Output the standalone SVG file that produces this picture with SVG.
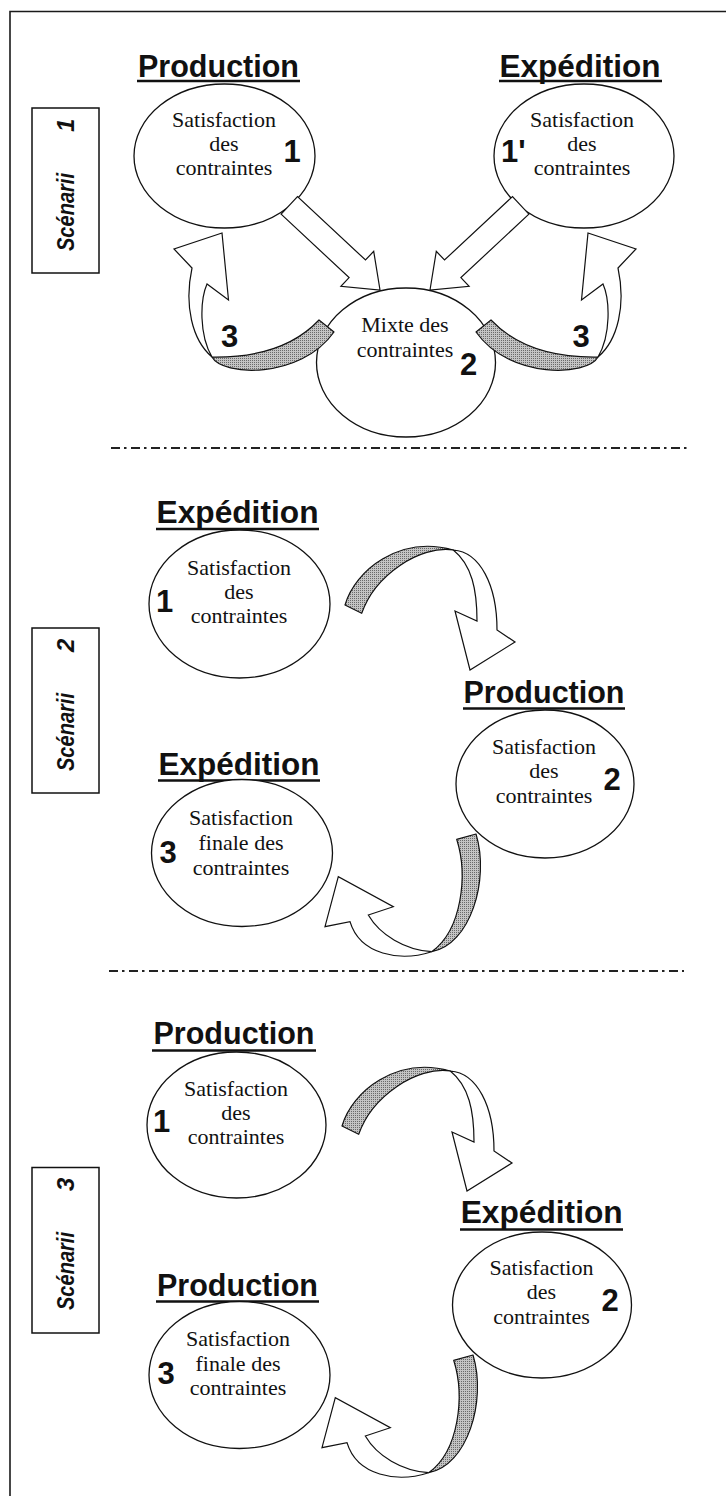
<svg xmlns="http://www.w3.org/2000/svg" width="726" height="1496" viewBox="0 0 726 1496">
  <style>
    .frame { fill: none; stroke: #1a1a1a; stroke-width: 1.6; }
    .node ellipse { fill: #fff; stroke: #111; stroke-width: 1.3; }
    .title { font-family: "Liberation Sans", Arial, sans-serif; font-weight: bold; font-size: 32px; text-anchor: middle; fill: #111; }
    .uline { stroke: #111; stroke-width: 2.6; }
    .body { font-family: "Liberation Serif", "Times New Roman", "DejaVu Serif", serif; font-size: 22px; text-anchor: middle; fill: #111; }
    .num { font-family: "Liberation Sans", Arial, sans-serif; font-weight: bold; font-size: 31px; text-anchor: middle; fill: #111; }
    .sep { stroke: #222; stroke-width: 1.8; stroke-dasharray: 9 4 2.5 4.5; }
    .tag rect { fill: #fff; stroke: #111; stroke-width: 1.5; }
    .tag text { font-family: "Liberation Sans", Arial, sans-serif; font-weight: bold; font-style: italic; font-size: 24px; fill: #111; }
    .ribbon { fill: url(#stipple); stroke: #111; stroke-width: 1.2; stroke-linejoin: round; }
    .arrow { fill: #fff; stroke: #111; stroke-width: 1.2; stroke-linejoin: miter; }
  </style>
  <defs>
    <pattern id="stipple" width="2" height="2" patternUnits="userSpaceOnUse">
      <rect width="2" height="2" fill="#c4c4c4"/>
      <rect width="1" height="1" fill="#6a6a6a"/>
    </pattern>
    <!-- return loop: shaded underside + white curved arrow (left side, scenario 1) -->
    <g id="loopBack">
      <path class="ribbon" d="M334,332 L319,320 C302,338 270,358 212,357 C222,376 300,380 334,332 Z"/>
      <path class="arrow" d="M212,357 C192,340 184,305 192,268 L174,249 L222,233 L228.5,300 L207,284 C200,300 199,335 212,357 Z"/>
    </g>
    <!-- curved arrow from step 1 over to step 2 -->
    <g id="arcOver">
      <path class="ribbon" d="M361.7,613.3 L345,605 C355,570 400,535 453.3,550 C420,545 375,575 361.7,613.3 Z"/>
      <path class="arrow" d="M453.3,550 C480,552 497,585 497,630 L515,642 L470,670 L455,611 L477,621 C477,590 472,565 453.3,550 Z"/>
    </g>
    <!-- curved arrow from step 2 back to step 3 -->
    <g id="arcUnder">
      <path class="ribbon" d="M476,834 L456.7,839.3 C468,875 462,930 431.7,951.7 C470,945 490,880 476,834 Z"/>
      <path class="arrow" d="M431.7,951.7 C400,962 360,955 350,921.7 L325,926.7 L338.3,876.7 L393.3,906.7 L368.3,915 C380,935 405,950 431.7,951.7 Z"/>
    </g>
  </defs>

  <rect width="726" height="1496" fill="#fff"/>

  <!-- page frame (top and left edges) -->
  <path class="frame" d="M10,1496 L10,11.5 L726,11.5"/>

  <!-- section separators -->
  <g id="separators">
    <line class="sep" x1="111" y1="448" x2="687" y2="448"/>
    <line class="sep" x1="109" y1="971" x2="684" y2="971"/>
  </g>

  <!-- ===== Scenario 1 ===== -->
  <g id="tag-s1" class="tag">
    <rect x="32" y="108" width="67" height="165"/>
    <text transform="translate(74,251) rotate(-90)"><tspan x="0" textLength="78" lengthAdjust="spacingAndGlyphs">Scénarii</tspan><tspan x="119">1</tspan></text>
  </g>

  <g id="s1-production" class="node">
    <text class="title" x="218.5" y="77" textLength="161" lengthAdjust="spacingAndGlyphs">Production</text>
    <line class="uline" x1="137" y1="81" x2="300" y2="81"/>
    <ellipse cx="224.5" cy="156" rx="90.5" ry="72"/>
    <text class="body" x="224" y="127">Satisfaction</text>
    <text class="body" x="224" y="151">des</text>
    <text class="body" x="224" y="175">contraintes</text>
    <text class="num" x="292" y="162">1</text>
  </g>

  <g id="s1-expedition" class="node">
    <text class="title" x="580" y="77" textLength="161" lengthAdjust="spacingAndGlyphs">Expédition</text>
    <line class="uline" x1="499" y1="81" x2="662" y2="81"/>
    <ellipse cx="584" cy="156" rx="90" ry="72"/>
    <text class="body" x="582" y="127">Satisfaction</text>
    <text class="body" x="582" y="151">des</text>
    <text class="body" x="582" y="175">contraintes</text>
    <text class="num" x="501" y="162" style="text-anchor:start">1'</text>
  </g>

  <g id="s1-mixte" class="node">
    <ellipse cx="406" cy="362.5" rx="89.5" ry="74.5"/>
    <text class="body" x="405" y="332">Mixte des</text>
    <text class="body" x="405" y="357">contraintes</text>
    <text class="num" x="468.5" y="375">2</text>
  </g>

  <g id="s1-connectors">
    <!-- straight block arrows into the shared circle -->
    <polygon class="arrow" points="281.1,214.1 349.1,277.6 340.9,286.3 380,290 373.7,251.3 365.5,260 297.5,196.5"/>
    <polygon class="arrow" points="528.9,214.1 460.9,277.6 469.1,286.3 430,290 436.3,251.3 444.5,260 512.5,196.5"/>
    <!-- return loops -->
    <use href="#loopBack"/>
    <use href="#loopBack" transform="translate(810,0) scale(-1,1)"/>
    <text class="num" x="229.5" y="347">3</text>
    <text class="num" x="581" y="347">3</text>
  </g>

  <!-- ===== Scenario 2 ===== -->
  <g id="tag-s2" class="tag">
    <rect x="32" y="628" width="67" height="165"/>
    <text transform="translate(74,771) rotate(-90)"><tspan x="0" textLength="78" lengthAdjust="spacingAndGlyphs">Scénarii</tspan><tspan x="119">2</tspan></text>
  </g>

  <g id="s2-expedition" class="node">
    <text class="title" x="237.5" y="523" textLength="162" lengthAdjust="spacingAndGlyphs">Expédition</text>
    <line class="uline" x1="156" y1="529" x2="319" y2="529"/>
    <ellipse cx="239.5" cy="604" rx="90.5" ry="74"/>
    <text class="body" x="239" y="575">Satisfaction</text>
    <text class="body" x="239" y="599">des</text>
    <text class="body" x="239" y="623">contraintes</text>
    <text class="num" x="164.5" y="612">1</text>
  </g>

  <g id="s2-production" class="node">
    <text class="title" x="544" y="703" textLength="161" lengthAdjust="spacingAndGlyphs">Production</text>
    <line class="uline" x1="463" y1="708.5" x2="625" y2="708.5"/>
    <ellipse cx="545" cy="784" rx="89" ry="74"/>
    <text class="body" x="544" y="754">Satisfaction</text>
    <text class="body" x="544" y="778">des</text>
    <text class="body" x="544" y="803">contraintes</text>
    <text class="num" x="612" y="790">2</text>
  </g>

  <g id="s2-expedition-final" class="node">
    <text class="title" x="239" y="775" textLength="161" lengthAdjust="spacingAndGlyphs">Expédition</text>
    <line class="uline" x1="158" y1="780.5" x2="320" y2="780.5"/>
    <ellipse cx="242" cy="853" rx="90.5" ry="73.5"/>
    <text class="body" x="241" y="825">Satisfaction</text>
    <text class="body" x="241" y="850">finale des</text>
    <text class="body" x="241" y="875">contraintes</text>
    <text class="num" x="168" y="863">3</text>
  </g>

  <g id="s2-connectors">
    <use href="#arcOver"/>
    <use href="#arcUnder"/>
  </g>

  <!-- ===== Scenario 3 ===== -->
  <g id="tag-s3" class="tag">
    <rect x="32" y="1167.5" width="67" height="165.5"/>
    <text transform="translate(74,1310) rotate(-90)"><tspan x="0" textLength="78" lengthAdjust="spacingAndGlyphs">Scénarii</tspan><tspan x="119">3</tspan></text>
  </g>

  <g id="s3-production" class="node">
    <text class="title" x="234" y="1044" textLength="161" lengthAdjust="spacingAndGlyphs">Production</text>
    <line class="uline" x1="152" y1="1050.5" x2="316" y2="1050.5"/>
    <ellipse cx="236.5" cy="1125" rx="89.5" ry="73"/>
    <text class="body" x="236" y="1096">Satisfaction</text>
    <text class="body" x="236" y="1120">des</text>
    <text class="body" x="236" y="1144">contraintes</text>
    <text class="num" x="161.5" y="1132">1</text>
  </g>

  <g id="s3-expedition" class="node">
    <text class="title" x="541.7" y="1223" textLength="162" lengthAdjust="spacingAndGlyphs">Expédition</text>
    <line class="uline" x1="460" y1="1229.5" x2="623" y2="1229.5"/>
    <ellipse cx="542" cy="1305" rx="89.5" ry="73"/>
    <text class="body" x="541.5" y="1275">Satisfaction</text>
    <text class="body" x="541.5" y="1299">des</text>
    <text class="body" x="541.5" y="1324">contraintes</text>
    <text class="num" x="610" y="1311">2</text>
  </g>

  <g id="s3-production-final" class="node">
    <text class="title" x="237.5" y="1296" textLength="161" lengthAdjust="spacingAndGlyphs">Production</text>
    <line class="uline" x1="156" y1="1301.5" x2="319" y2="1301.5"/>
    <ellipse cx="239.5" cy="1375" rx="90.5" ry="73.5"/>
    <text class="body" x="238" y="1346">Satisfaction</text>
    <text class="body" x="238" y="1371">finale des</text>
    <text class="body" x="238" y="1395">contraintes</text>
    <text class="num" x="166" y="1384">3</text>
  </g>

  <g id="s3-connectors">
    <use href="#arcOver" transform="translate(-3,521)"/>
    <use href="#arcUnder" transform="translate(-3,521)"/>
  </g>
</svg>
